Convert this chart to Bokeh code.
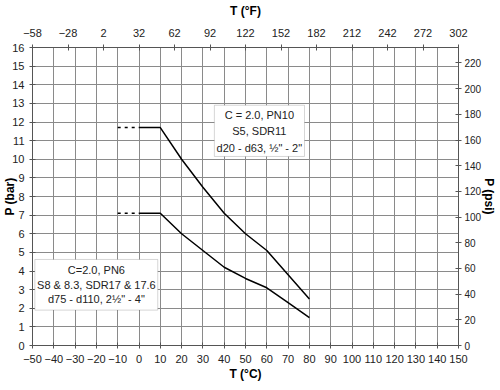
from bokeh.plotting import figure
from bokeh.models import (Range1d, LinearAxis, FixedTicker, BoxAnnotation, Label)
from bokeh.embed import file_html
from bokeh.resources import INLINE

# ---- data ----
temps_c = [0, 10, 20, 30, 40, 50, 60, 70, 80]
pn10_bar = [11.7, 11.7, 10.0, 8.5, 7.1, 6.0, 5.1, 3.8, 2.5]
pn6_bar = [7.1, 7.1, 6.0, 5.1, 4.2, 3.6, 3.1, 2.3, 1.5]
ext_temps_c = [-10, 0]
pn10_ext = [11.7, 11.7]
pn6_ext = [7.1, 7.1]

c_ticks = [-50, -40, -30, -20, -10, 0, 10, 20, 30, 40, 50, 60, 70, 80, 90, 100,
           110, 120, 130, 140, 150]
f_ticks = [-58, -28, 2, 32, 62, 92, 122, 152, 182, 212, 242, 272, 302]
bar_ticks = [0, 1, 2, 3, 4, 5, 6, 7, 8, 9, 10, 11, 12, 13, 14, 15, 16]
psi_ticks = [0, 20, 40, 60, 80, 100, 120, 140, 160, 180, 200, 220]

pn10_text = ["C = 2.0, PN10", "S5, SDR11", "d20 - d63, \u00bd\" - 2\""]
pn6_text = ["C=2.0, PN6", "S8 & 8.3, SDR17 & 17.6", "d75 - d110, 2\u00bd\" - 4\""]

FONT = "Liberation Sans"
GRID = "#8a8a8a"
AXC = "#555555"
TXT = "#222222"

p = figure(frame_width=426, frame_height=298, output_backend="svg",
           toolbar_location=None,
           x_range=Range1d(-50, 150), y_range=Range1d(0, 16),
           min_border_left=24, min_border_right=34, min_border_top=40,
           min_border_bottom=36, x_axis_location=None, y_axis_location=None)
p.extra_x_ranges = {"F": Range1d(-58, 302)}
p.extra_y_ranges = {"psi": Range1d(0, 16 * 14.5038)}

p.outline_line_color = AXC
p.background_fill_color = "white"
p.border_fill_color = "white"


def style(ax, ticks, label):
    ax.ticker = FixedTicker(ticks=ticks)
    ax.axis_label = label
    ax.axis_label_text_font = FONT
    ax.axis_label_text_font_size = "12px"
    ax.axis_label_text_font_style = "bold"
    ax.axis_label_text_color = "black"
    ax.major_label_text_font = FONT
    ax.major_label_text_font_size = "11px"
    ax.major_label_text_color = TXT
    ax.major_label_standoff = 3
    ax.major_tick_in = 3
    ax.major_tick_out = 3
    ax.minor_tick_line_color = None
    ax.axis_line_color = AXC
    ax.major_tick_line_color = AXC


xb = LinearAxis()
style(xb, c_ticks, "T (\u00b0C)")
xb.major_label_standoff = 6
xb.axis_label_standoff = 1
p.add_layout(xb, "below")

xt = LinearAxis(x_range_name="F")
style(xt, f_ticks, "T (\u00b0F)")
xt.major_label_standoff = 8
xt.axis_label_standoff = 8
p.add_layout(xt, "above")

yl = LinearAxis()
style(yl, bar_ticks, "P (bar)")
yl.major_label_standoff = 5
yl.axis_label_standoff = -8
p.add_layout(yl, "left")

yr = LinearAxis(y_range_name="psi")
style(yr, psi_ticks, "P (psi)")
yr.major_label_text_font_size = "10px"
yr.major_label_standoff = 3
yr.axis_label_standoff = -2
p.add_layout(yr, "right")

p.xgrid.ticker = FixedTicker(ticks=c_ticks)
p.ygrid.ticker = FixedTicker(ticks=bar_ticks)
p.xgrid.grid_line_color = GRID
p.ygrid.grid_line_color = GRID
p.xgrid.grid_line_width = 1
p.ygrid.grid_line_width = 1

# curves
p.line(temps_c, pn10_bar, line_color="black", line_width=1.5)
p.line(temps_c, pn6_bar, line_color="black", line_width=1.5)
p.line(ext_temps_c, pn10_ext, line_color="black", line_width=1.5, line_dash="3 4")
p.line(ext_temps_c, pn6_ext, line_color="black", line_width=1.5, line_dash="3 4")

# annotation boxes
p.add_layout(BoxAnnotation(left=35.4, right=77.7, bottom=10.15, top=12.9,
                           fill_color="white", fill_alpha=1.0,
                           line_color="#777777", line_width=1))
p.add_layout(BoxAnnotation(left=-48.9, right=8.8, bottom=1.9, top=4.62,
                           fill_color="white", fill_alpha=1.0,
                           line_color="#777777", line_width=1))

for i, t in enumerate(pn10_text):
    p.add_layout(Label(x=56.5, y=12.35 - i * 0.86, text=t, text_align="center",
                       text_baseline="middle", text_font=FONT,
                       text_font_size="11px", text_color=TXT))
for i, t in enumerate(pn6_text):
    p.add_layout(Label(x=-20.0, y=4.07 - i * 0.8, text=t, text_align="center",
                       text_baseline="middle", text_font=FONT,
                       text_font_size="11px", text_color=TXT))

open("out.html", "w").write(file_html(p, INLINE))
